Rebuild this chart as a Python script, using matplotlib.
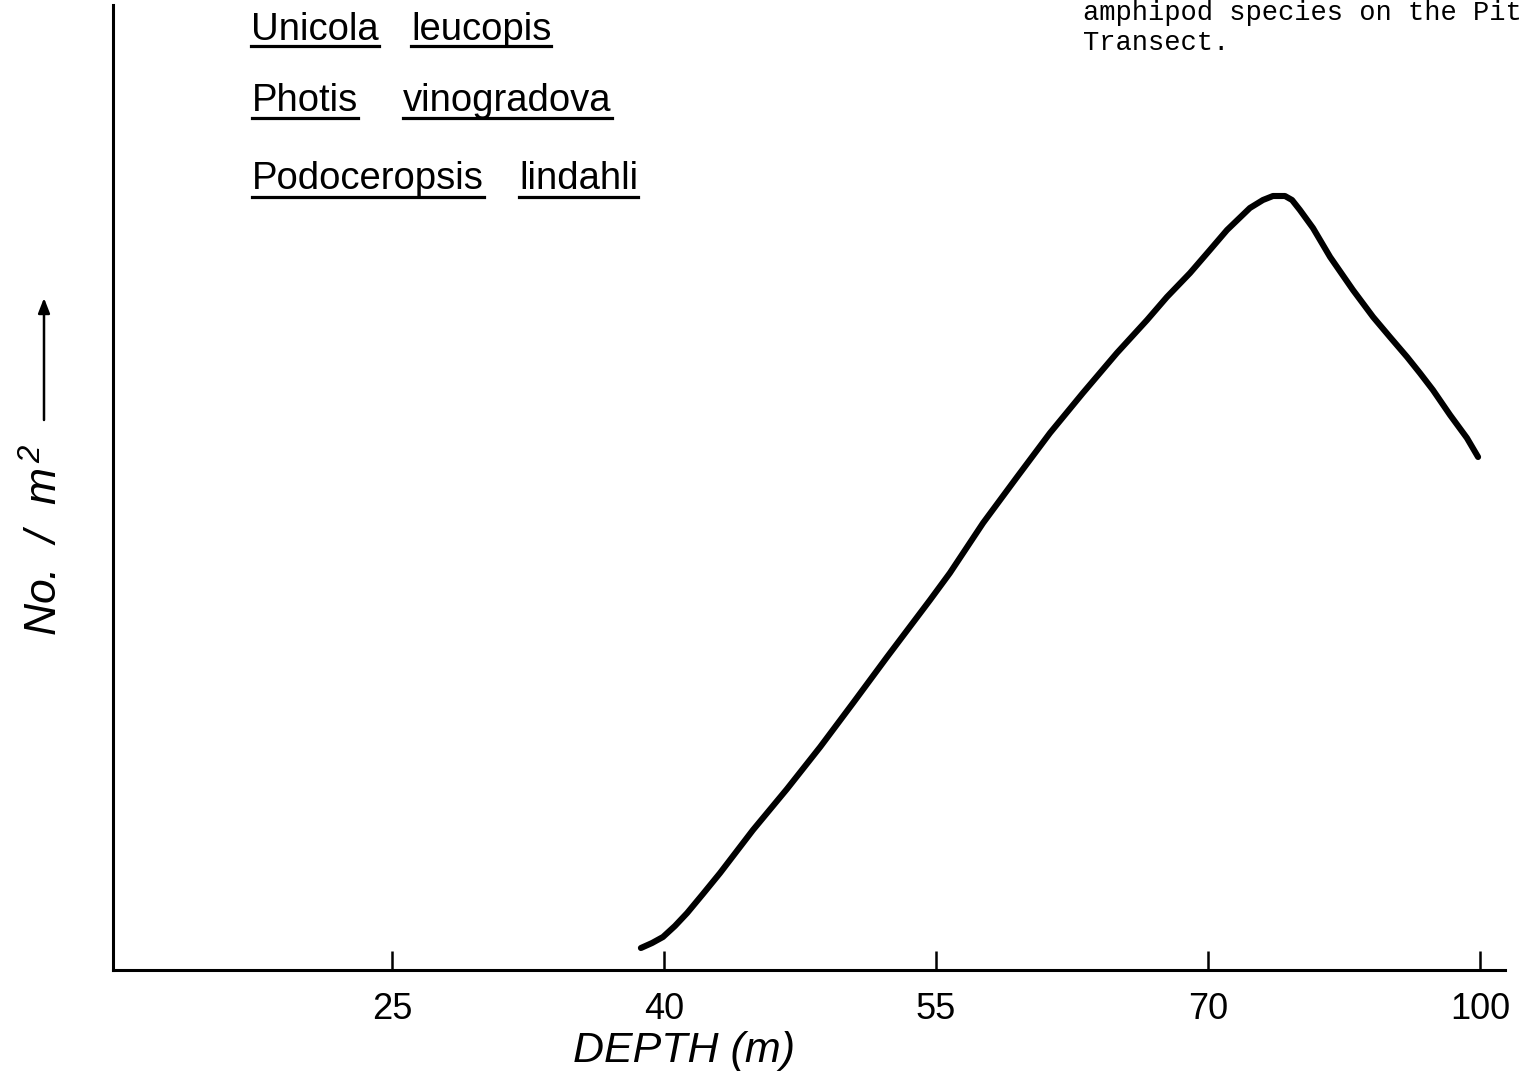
import matplotlib
matplotlib.use("Agg")
import matplotlib.pyplot as plt
from matplotlib.lines import Line2D

# ---- data ----
depth_labels = ["25", "40", "55", "70", "100"]
depth_pos = [0, 1, 2, 3, 4]

# curve: position along the (equally spaced) depth axis, density in arbitrary units
curve_pos = [0.915, 0.956, 0.996, 1.040, 1.085, 1.143, 1.206, 1.327, 1.452, 1.574,
             1.695, 1.820, 1.978, 2.051, 2.173, 2.298, 2.419, 2.540, 2.665, 2.776,
             2.849, 2.934, 3.007, 3.070, 3.154, 3.202, 3.239, 3.283, 3.309, 3.338,
             3.386, 3.449, 3.533, 3.607, 3.669, 3.732, 3.779, 3.827, 3.890, 3.952,
             3.993]
curve_density = [2.2, 2.7, 3.3, 4.4, 5.7, 7.6, 9.7, 14.0, 18.1, 22.3,
                 26.7, 31.3, 37.0, 39.7, 44.7, 49.3, 53.7, 57.7, 61.7, 65.0,
                 67.3, 69.7, 72.0, 74.0, 76.2, 77.0, 77.4, 77.4, 77.0, 76.0,
                 74.2, 71.3, 68.0, 65.3, 63.3, 61.3, 59.7, 58.0, 55.5, 53.2,
                 51.3]

species = [("Unicola", "leucopis"),
           ("Photis", "vinogradova"),
           ("Podoceropsis", "lindahli")]

caption_lines = ["amphipod species on the Pit", "Transect."]

W, H = 1526, 1077
fig = plt.figure(figsize=(W / 100, H / 100), dpi=100)
fig.patch.set_facecolor("white")

def fx(px):
    return px / W

def fy(py):
    return 1 - py / H

ax_left, ax_right, ax_bottom, ax_top = 113, 1505, 970, 5
ax = fig.add_axes([fx(ax_left), fy(ax_bottom), fx(ax_right) - fx(ax_left), fy(ax_top) - fy(ax_bottom)])
ax.set_facecolor("white")

ax.plot(curve_pos, curve_density, color="black", lw=4.4,
        solid_capstyle="round", solid_joinstyle="round")

ax.set_xlim(-1.026, 4.092)
ax.set_ylim(0, 96.5)

for s in ["top", "right"]:
    ax.spines[s].set_visible(False)
for s in ["left", "bottom"]:
    ax.spines[s].set_linewidth(2.2)
    ax.spines[s].set_color("black")

ax.set_xticks(depth_pos)
ax.set_xticklabels(depth_labels)
ax.tick_params(axis="x", direction="in", length=14, width=1.8, pad=16,
               labelsize=26, colors="black")
for lab in ax.get_xticklabels():
    lab.set_family(["Liberation Sans", "DejaVu Sans"])
ax.set_yticks([])

ax.set_xlabel("DEPTH (m)", fontsize=31, style="italic",
              family=["Liberation Sans", "DejaVu Sans"], va="center", ha="center")
ax.xaxis.set_label_coords((684 - ax_left) / (ax_right - ax_left),
                          (ax_bottom - 1051) / (ax_bottom - ax_top))

plt.rcParams["mathtext.default"] = "regular"
ax.set_ylabel("No.  /  m$^{\\,2}$", fontsize=32, style="italic",
              family=["Liberation Sans", "DejaVu Sans"], va="center", ha="center")
ax.yaxis.set_label_coords((45 - ax_left) / (ax_right - ax_left),
                          (ax_bottom - 540) / (ax_bottom - ax_top))

# arrow after the y label
ax.annotate("", xy=(fx(44), fy(298)), xycoords="figure fraction",
            xytext=(fx(44), fy(420)), textcoords="figure fraction",
            arrowprops=dict(arrowstyle="-|>,head_length=0.9,head_width=0.35",
                            lw=1.8, color="black", shrinkA=0, shrinkB=0))

# species names with underlines
rows_baseline = [40, 111, 189]
rows_underline = [46, 118, 197]
word_x = [(251, 411), (252, 403), (252, 519)]
fig.canvas.draw()
renderer = fig.canvas.get_renderer()
for (g, sp), yb, yu, (x1, x2) in zip(species, rows_baseline, rows_underline, word_x):
    for word, x in ((g, x1), (sp, x2)):
        t = fig.text(fx(x), fy(yb), word, fontsize=27.5, va="baseline", ha="left",
                     family=["Liberation Sans", "DejaVu Sans"], color="black")
        bb = t.get_window_extent(renderer)
        fig.add_artist(Line2D([bb.x0 / W, bb.x1 / W], [fy(yu), fy(yu)],
                              transform=fig.transFigure, color="black", lw=2.3))

# caption fragment (top right)
fig.text(fx(1083), fy(20), caption_lines[0], fontsize=19.5, va="baseline", ha="left",
         family=["Liberation Mono", "DejaVu Sans Mono"], color="black")
fig.text(fx(1083), fy(50), caption_lines[1], fontsize=19.5, va="baseline", ha="left",
         family=["Liberation Mono", "DejaVu Sans Mono"], color="black")

fig.savefig("out.png", dpi=100, facecolor="white")
